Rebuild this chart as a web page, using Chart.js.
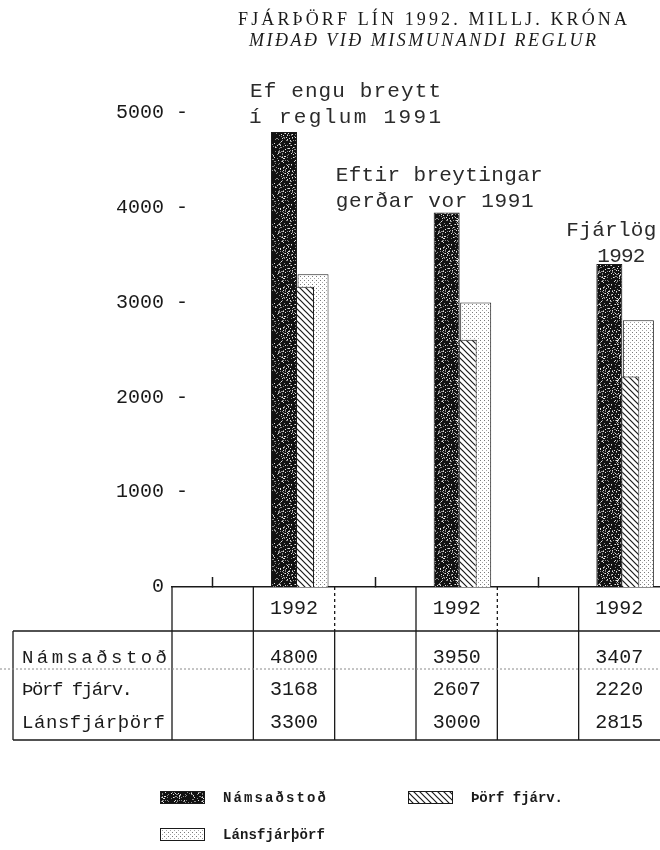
<!DOCTYPE html>
<html>
<head>
<meta charset="utf-8">
<script src="https://cdn.jsdelivr.net/npm/chart.js@4.4.1/dist/chart.umd.min.js"></script>
<style>
  html, body { margin: 0; padding: 0; background: #fff; }
</style>
</head>
<body>
<canvas id="myChart" width="660" height="850"></canvas>
<script>
// gögn
const xLabels = ['', '1992', '', '1992', '', '1992'];
const seriesNames = ['Námsaðstoð', 'Þörf fjárv.', 'Lánsfjárþörf'];
const namsadstod = [4800, 3950, 3407];
const thorfFjarv = [3168, 2607, 2220];
const lansfjarthorf = [3300, 3000, 2815];
const yTicks = [0, 1000, 2000, 3000, 4000, 5000];
const titleLines = ['FJÁRÞÖRF LÍN 1992. MILLJ. KRÓNA', 'MIÐAÐ VIÐ MISMUNANDI REGLUR'];
const groupNotes = [
    ['Ef engu breytt', 'í reglum 1991'],
    ['Eftir breytingar', 'gerðar vor 1991'],
    ['Fjárlög', '1992']
];

const mono = "'Liberation Mono', 'DejaVu Sans Mono', monospace";
const serif = "'Liberation Serif', 'DejaVu Serif', serif";
const ink = '#1a1a1a';

// the '1992' columns hold the bars
const groupCols = xLabels.map((l, i) => l ? i : -1).filter(i => i >= 0);
const toPoints = (vals) => vals.map((v, i) => ({x: groupCols[i], y: v}));

// mynstur
const tile = (size, paint) => {
    const c = document.createElement('canvas');
    c.width = c.height = size;
    const g = c.getContext('2d');
    paint(g);
    return g.createPattern(c, 'repeat');
};
// grainy print texture, fixed xorshift seed so it is the same every run
const speckle = tile(40, (g) => {
    g.fillStyle = '#111';
    g.fillRect(0, 0, 40, 40);
    let s = 2463534242;
    for (let i = 0; i < 330; i++) {
        s ^= s << 13; s ^= s >>> 17; s ^= s << 5;
        const h = s >>> 0;
        g.fillStyle = h % 3 ? '#8a8a8a' : '#e4e4e4';
        g.fillRect((h >>> 4) % 40, (h >>> 12) % 40, 1, 1);
    }
});
const hatch = tile(6, (g) => {
    g.fillStyle = '#fff';
    g.fillRect(0, 0, 6, 6);
    g.strokeStyle = ink;
    g.lineWidth = 1.2;
    g.beginPath();
    g.moveTo(-1, -1); g.lineTo(7, 7);
    g.moveTo(-1, 5); g.lineTo(1, 7);
    g.moveTo(5, -1); g.lineTo(7, 1);
    g.stroke();
});
const dots = tile(4, (g) => {
    g.fillStyle = '#fff';
    g.fillRect(0, 0, 4, 4);
    g.fillStyle = '#7a7a7a';
    g.fillRect(0, 0, 1, 1);
    g.fillStyle = '#a5a5a5';
    g.fillRect(2, 2, 1, 1);
});

// bars overlap a little in the print: each series sits on its own hidden x axis, nudged in category units
const nudge = [-0.123, 0.135, 0.234];
const hiddenX = (s) => ({
    type: 'linear', display: false, offset: false,
    min: -0.5 - s, max: xLabels.length - 0.5 - s,
    ticks: {count: 2}
});

const fitText = (ctx, text, x, y, width) => {
    ctx.letterSpacing = '0px';
    const w = ctx.measureText(text).width;
    const ls = text.length > 1 ? (width - w) / (text.length - 1) : 0;
    ctx.letterSpacing = ls.toFixed(2) + 'px';
    ctx.fillText(text, x, y);
    ctx.letterSpacing = '0px';
};

// titill, skýringar, tafla og skýringarmynd
const extras = {
    id: 'extras',
    afterDraw(chart) {
        const {ctx, chartArea: a, scales: {x}} = chart;
        ctx.save();
        ctx.fillStyle = ink;
        ctx.textBaseline = 'alphabetic';
        ctx.textAlign = 'left';

        ctx.font = `18px ${serif}`;
        fitText(ctx, titleLines[0], 238, 25, 389);
        ctx.font = `italic 18px ${serif}`;
        fitText(ctx, titleLines[1], 249, 46, 347);

        const noteLayout = [
            [[-44, 97, 191], [-45, 123, 192]],
            [[-121, 181, 207], [-121, 207, 198]],
            [[-53, 236, 90], [-22, 262, 48]]
        ];
        ctx.font = `21px ${mono}`;
        ctx.fillStyle = '#2b2b2b';
        groupNotes.forEach((lines, g) => {
            const cx = x.getPixelForValue(groupCols[g]);
            lines.forEach((t, k) => {
                const [dx, y, w] = noteLayout[g][k];
                fitText(ctx, t, cx + dx, y, w);
            });
        });

        // tafla
        const bounds = xLabels.map((_, i) => x.getPixelForValue(i - 0.5));
        const headBottom = a.bottom + 44;
        const tableBottom = a.bottom + 153;
        const tableLeft = 13;
        ctx.strokeStyle = ink;
        ctx.lineWidth = 1.3;
        ctx.beginPath();
        bounds.forEach((bx, i) => {
            // the head-row lines right of the '1992' cells are broken in the print
            ctx.moveTo(bx, xLabels[i - 1] ? headBottom : a.bottom);
            ctx.lineTo(bx, tableBottom);
        });
        ctx.moveTo(tableLeft, headBottom); ctx.lineTo(a.right, headBottom);
        ctx.moveTo(tableLeft, tableBottom); ctx.lineTo(a.right, tableBottom);
        ctx.moveTo(tableLeft, headBottom); ctx.lineTo(tableLeft, tableBottom);
        ctx.stroke();

        ctx.save();
        ctx.setLineDash([3, 3]);
        ctx.beginPath();
        bounds.forEach((bx, i) => {
            if (xLabels[i - 1]) {
                ctx.moveTo(bx, a.bottom);
                ctx.lineTo(bx, headBottom);
            }
        });
        ctx.stroke();
        ctx.strokeStyle = '#8a8a8a';
        ctx.lineWidth = 1;
        ctx.setLineDash([2, 2]);
        ctx.beginPath();
        ctx.moveTo(0, headBottom + 38);
        ctx.lineTo(a.right, headBottom + 38);
        ctx.stroke();
        ctx.restore();

        const rowY = [headBottom + 27, headBottom + 59, headBottom + 92];
        const rowW = [145, 111, 143];
        const series = [namsadstod, thorfFjarv, lansfjarthorf];
        ctx.fillStyle = ink;
        ctx.textBaseline = 'middle';
        ctx.font = `19px ${mono}`;
        seriesNames.forEach((name, r) => {
            ctx.textAlign = 'left';
            fitText(ctx, name, tableLeft + 9, rowY[r], rowW[r]);
        });
        ctx.font = `20px ${mono}`;
        ctx.textAlign = 'center';
        series.forEach((vals, r) => {
            vals.forEach((v, g) => {
                ctx.fillText(String(v), x.getPixelForValue(groupCols[g]), rowY[r]);
            });
        });

        // skýringar
        const legendPos = [[160, 797], [408, 797], [160, 834]];
        ctx.font = `bold 14px ${mono}`;
        ctx.textAlign = 'left';
        const legendW = [103, 92, 102];
        chart.data.datasets.forEach((ds, i) => {
            const [lx, ly] = legendPos[i];
            ctx.fillStyle = ds.backgroundColor;
            ctx.fillRect(lx, ly - 6, 44, 12);
            ctx.strokeStyle = ink;
            ctx.lineWidth = 1;
            ctx.strokeRect(lx + 0.5, ly - 5.5, 44, 12);
            ctx.fillStyle = ink;
            fitText(ctx, ds.label, lx + 63, ly + 1, legendW[i]);
        });
        ctx.restore();
    }
};

const barBase = {grouped: false, borderColor: ink, borderWidth: 1};

new Chart(document.getElementById('myChart'), {
    type: 'bar',
    data: {
        datasets: [
            {...barBase, label: seriesNames[0], data: toPoints(namsadstod), xAxisID: 'x0',
                backgroundColor: speckle, maxBarThickness: 26},
            {...barBase, label: seriesNames[1], data: toPoints(thorfFjarv), xAxisID: 'x1',
                backgroundColor: hatch, maxBarThickness: 18},
            {...barBase, label: seriesNames[2], data: toPoints(lansfjarthorf), xAxisID: 'x2',
                backgroundColor: dots, maxBarThickness: 31}
        ]
    },
    options: {
        responsive: false,
        animation: false,
        events: [],
        layout: {padding: {top: 113, left: 100, right: 0, bottom: 223}},
        plugins: {legend: {display: false}, tooltip: {enabled: false}},
        scales: {
            x: {
                type: 'linear', position: 'bottom', offset: false,
                min: -0.5, max: xLabels.length - 0.5,
                afterBuildTicks: (s) => { s.ticks = xLabels.map((_, i) => ({value: i})); },
                afterFit: (s) => { s.height = 40; s.paddingLeft = 0; s.paddingRight = 0; },
                ticks: {
                    autoSkip: false, maxRotation: 0, padding: 20,
                    color: ink, font: {family: mono, size: 20},
                    callback: (v, i) => xLabels[i]
                },
                grid: {
                    display: true, offset: false, drawOnChartArea: false, drawTicks: true, tickLength: -10,
                    tickWidth: 1.5,
                    tickColor: (c) => xLabels[c.index] ? 'rgba(0,0,0,0)' : ink
                },
                border: {display: true, color: ink, width: 1.5}
            },
            x0: hiddenX(nudge[0]),
            x1: hiddenX(nudge[1]),
            x2: hiddenX(nudge[2]),
            y: {
                type: 'linear', min: 0, max: 5000,
                afterBuildTicks: (s) => { s.ticks = yTicks.map((v) => ({value: v})); },
                afterFit: (s) => { s.width = 72; },
                ticks: {
                    mirror: true, padding: -56, color: ink, font: {family: mono, size: 20},
                    callback: (v) => v === 0 ? '   0' : v + ' -'
                },
                grid: {display: false, drawTicks: false},
                border: {display: false}
            }
        }
    },
    plugins: [extras]
});
</script>
</body>
</html>
